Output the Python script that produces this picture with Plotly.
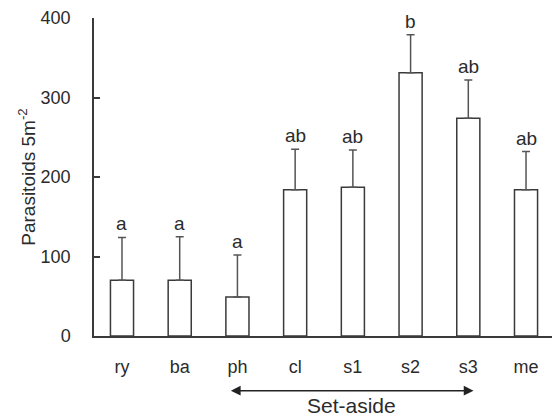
import plotly.graph_objects as go

categories = ["ry", "ba", "ph", "cl", "s1", "s2", "s3", "me"]
means = [70, 70, 49, 184, 187, 331, 274, 184]
errors = [54, 55, 53, 51, 47, 48, 48, 48]
letters = ["a", "a", "a", "ab", "ab", "b", "ab", "ab"]
y_ticks = [0, 100, 200, 300, 400]

FONT = "Liberation Sans, Arial, sans-serif"
TXT = "#2b2b2b"
LINE = "#3a3a3a"

xs = list(range(len(categories)))

fig = go.Figure()
fig.add_trace(go.Bar(
    x=xs, y=means, width=0.4,
    marker=dict(color="white", line=dict(color=LINE, width=1.5)),
    error_y=dict(type="data", array=errors, arrayminus=[0]*len(errors),
                 symmetric=False, color="#555555", thickness=1.5, width=4),
    showlegend=False,
))

for xi, m, e, lab in zip(xs, means, errors, letters):
    fig.add_annotation(x=xi, y=m + e, text=lab, showarrow=False,
                       xref="x", yref="y", yanchor="bottom", yshift=1,
                       font=dict(family=FONT, size=19, color=TXT))

# Set-aside double arrow spanning ph .. s3
i0 = categories.index("ph")
i1 = categories.index("s3")
fig.add_annotation(x=i1 + 0.09, y=-0.172, ax=i0 - 0.14, ay=-0.172,
                   xref="x", yref="y domain", axref="x", ayref="y domain",
                   text="", showarrow=True, arrowhead=2, arrowside="end+start",
                   arrowsize=1.3, arrowwidth=1.5, arrowcolor="#222222", standoff=0, startstandoff=0)
fig.add_annotation(x=(i0 + i1) / 2 - 0.03, y=-0.218, xref="x", yref="paper",
                   text="Set-aside", showarrow=False, yanchor="middle",
                   font=dict(family=FONT, size=21, color=TXT))

fig.update_layout(
    width=552, height=418,
    margin=dict(l=94, r=0, t=18, b=82),
    plot_bgcolor="white", paper_bgcolor="white",
    font=dict(family=FONT, size=18, color=TXT),
    bargap=0.6,
)
fig.update_xaxes(
    range=[-0.485, 7.45], tickvals=xs, ticktext=categories,
    showgrid=False, zeroline=False, showline=True, linecolor=LINE, linewidth=1.5,
    ticks="", ticklabelstandoff=14,
    tickfont=dict(family=FONT, size=18, color=TXT),
)
fig.update_yaxes(
    range=[0, 400], tickvals=y_ticks,
    showgrid=False, zeroline=False, showline=True, linecolor=LINE, linewidth=1.5,
    ticks="inside", ticklen=6, tickwidth=1.5, tickcolor=LINE,
    ticklabelstandoff=18,
    tickfont=dict(family=FONT, size=18, color=TXT),
    title=dict(text="Parasitoids 5m<sup>-2</sup>", standoff=0,
               font=dict(family=FONT, size=19, color=TXT)),
)

fig.write_html("out.html", config={"displayModeBar": False},
               post_script="document.body.style.margin='0px';document.body.style.padding='0px';")
